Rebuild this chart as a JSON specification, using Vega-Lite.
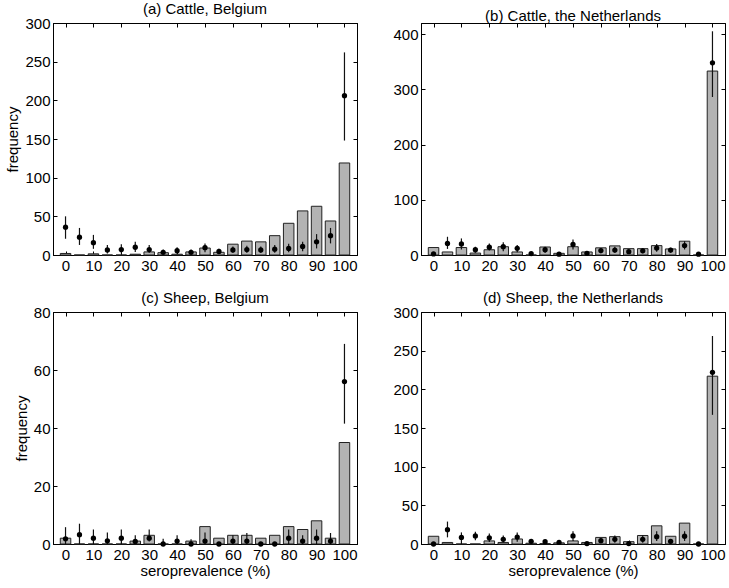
{
  "$schema": "https://vega.github.io/schema/vega-lite/v6.json",
  "padding": {"left": 5, "top": 1, "right": 4, "bottom": 2},
  "background": "white",
  "config": {
    "font": "Liberation Sans",
    "view": {"stroke": "black", "strokeWidth": 1},
    "axis": {"grid": false, "tickSize": -4, "minExtent": 0, "tickColor": "black", "domainColor": "black", "labelColor": "black", "labelFontSize": 15, "labelFont": "Liberation Sans", "titleFont": "Liberation Sans", "titleFontSize": 15, "titleFontWeight": "normal", "titleColor": "black"},
    "axisX": {"labelPadding": 7, "titlePadding": 1},
    "axisY": {"labelPadding": 7, "titlePadding": 4},
    "title": {"fontSize": 15, "fontWeight": "normal", "font": "Liberation Sans", "color": "black", "offset": -1, "frame": "group"}
  },
  "datasets": {
    "a": [
      {"x": 0, "bar": 2, "pt": 36, "lo": 21, "hi": 50},
      {"x": 5, "bar": 0, "pt": 23, "lo": 13, "hi": 35},
      {"x": 10, "bar": 1.5, "pt": 16, "lo": 8, "hi": 26},
      {"x": 15, "bar": 0, "pt": 6.5, "lo": 2, "hi": 13},
      {"x": 20, "bar": 0, "pt": 7, "lo": 2, "hi": 14},
      {"x": 25, "bar": 1, "pt": 10, "lo": 4, "hi": 17},
      {"x": 30, "bar": 4, "pt": 7, "lo": 3, "hi": 13},
      {"x": 35, "bar": 3, "pt": 3.5, "lo": 1, "hi": 7},
      {"x": 40, "bar": 1, "pt": 5.5, "lo": 2, "hi": 10},
      {"x": 45, "bar": 4, "pt": 3.5, "lo": 1, "hi": 7},
      {"x": 50, "bar": 9, "pt": 9.5, "lo": 3.5, "hi": 15},
      {"x": 55, "bar": 3.5, "pt": 4.5, "lo": 1.5, "hi": 8},
      {"x": 60, "bar": 14, "pt": 6.5, "lo": 2.5, "hi": 11},
      {"x": 65, "bar": 18, "pt": 7, "lo": 3, "hi": 12},
      {"x": 70, "bar": 17, "pt": 6.5, "lo": 2.5, "hi": 11},
      {"x": 75, "bar": 25, "pt": 7.5, "lo": 3, "hi": 13},
      {"x": 80, "bar": 41, "pt": 8.5, "lo": 3.5, "hi": 14.5},
      {"x": 85, "bar": 57, "pt": 11, "lo": 5, "hi": 17},
      {"x": 90, "bar": 63, "pt": 17, "lo": 8.5, "hi": 27},
      {"x": 95, "bar": 44, "pt": 25, "lo": 15, "hi": 35},
      {"x": 100, "bar": 119, "pt": 206, "lo": 148, "hi": 262}
    ],
    "b": [
      {"x": 0, "bar": 13.5, "pt": 2, "lo": 0, "hi": 4},
      {"x": 5, "bar": 5.5, "pt": 21, "lo": 11, "hi": 33},
      {"x": 10, "bar": 13.5, "pt": 20, "lo": 10, "hi": 30},
      {"x": 15, "bar": 3.5, "pt": 9.5, "lo": 4, "hi": 15},
      {"x": 20, "bar": 9.5, "pt": 14, "lo": 8, "hi": 21},
      {"x": 25, "bar": 15, "pt": 15, "lo": 7, "hi": 23},
      {"x": 30, "bar": 5.5, "pt": 12, "lo": 5, "hi": 18},
      {"x": 35, "bar": 0, "pt": 2.5, "lo": 0.5, "hi": 5},
      {"x": 40, "bar": 14.5, "pt": 9.5, "lo": 4, "hi": 15},
      {"x": 45, "bar": 3, "pt": 1.5, "lo": 0, "hi": 3},
      {"x": 50, "bar": 15, "pt": 19, "lo": 10, "hi": 28},
      {"x": 55, "bar": 5.5, "pt": 3, "lo": 1, "hi": 6},
      {"x": 60, "bar": 13, "pt": 8, "lo": 3, "hi": 12},
      {"x": 65, "bar": 16.5, "pt": 9, "lo": 4, "hi": 15},
      {"x": 70, "bar": 11.5, "pt": 6, "lo": 2, "hi": 9},
      {"x": 75, "bar": 11.5, "pt": 7.5, "lo": 3, "hi": 12},
      {"x": 80, "bar": 17, "pt": 12.5, "lo": 6, "hi": 20},
      {"x": 85, "bar": 11, "pt": 9, "lo": 4, "hi": 13},
      {"x": 90, "bar": 25, "pt": 17, "lo": 10, "hi": 25},
      {"x": 95, "bar": 0, "pt": 1.5, "lo": 0, "hi": 3},
      {"x": 100, "bar": 333, "pt": 348, "lo": 286, "hi": 405}
    ],
    "c": [
      {"x": 0, "bar": 2, "pt": 1.8, "lo": 0, "hi": 5.8},
      {"x": 5, "bar": 0, "pt": 3.2, "lo": 0, "hi": 7},
      {"x": 10, "bar": 0, "pt": 2, "lo": 0, "hi": 5},
      {"x": 15, "bar": 0, "pt": 1.1, "lo": 0, "hi": 4},
      {"x": 20, "bar": 0, "pt": 2, "lo": 0, "hi": 5},
      {"x": 25, "bar": 1, "pt": 0.9, "lo": 0, "hi": 3},
      {"x": 30, "bar": 3, "pt": 2, "lo": 0.9, "hi": 5},
      {"x": 35, "bar": 0, "pt": 0, "lo": 0, "hi": 1.8},
      {"x": 40, "bar": 0, "pt": 1, "lo": 0, "hi": 3},
      {"x": 45, "bar": 1, "pt": 0, "lo": 0, "hi": 1.6},
      {"x": 50, "bar": 6, "pt": 1, "lo": 0, "hi": 4},
      {"x": 55, "bar": 2, "pt": 0, "lo": 0, "hi": 0},
      {"x": 60, "bar": 3, "pt": 1, "lo": 0, "hi": 3},
      {"x": 65, "bar": 3, "pt": 1, "lo": 0, "hi": 3.8},
      {"x": 70, "bar": 2, "pt": 0, "lo": 0, "hi": 0},
      {"x": 75, "bar": 3, "pt": 0, "lo": 0, "hi": 0.5},
      {"x": 80, "bar": 6, "pt": 2, "lo": 0, "hi": 5},
      {"x": 85, "bar": 5, "pt": 1, "lo": 0, "hi": 3},
      {"x": 90, "bar": 8, "pt": 2, "lo": 0, "hi": 5},
      {"x": 95, "bar": 2, "pt": 1, "lo": 0, "hi": 3.8},
      {"x": 100, "bar": 35, "pt": 56, "lo": 41.5, "hi": 69}
    ],
    "d": [
      {"x": 0, "bar": 10, "pt": 0, "lo": 0, "hi": 0},
      {"x": 5, "bar": 2, "pt": 18.5, "lo": 8.6, "hi": 29},
      {"x": 10, "bar": 0, "pt": 8.5, "lo": 0, "hi": 15},
      {"x": 15, "bar": 0, "pt": 10.5, "lo": 5, "hi": 16},
      {"x": 20, "bar": 4, "pt": 8, "lo": 2.5, "hi": 13.5},
      {"x": 25, "bar": 2, "pt": 6, "lo": 2, "hi": 11},
      {"x": 30, "bar": 6.5, "pt": 9, "lo": 3, "hi": 15},
      {"x": 35, "bar": 1, "pt": 3.5, "lo": 0.5, "hi": 6},
      {"x": 40, "bar": 0.5, "pt": 3, "lo": 0.5, "hi": 5},
      {"x": 45, "bar": 1.5, "pt": 2, "lo": 0, "hi": 3},
      {"x": 50, "bar": 4, "pt": 10.5, "lo": 4, "hi": 16.5},
      {"x": 55, "bar": 2, "pt": 0.5, "lo": 0, "hi": 1},
      {"x": 60, "bar": 8.5, "pt": 4.3, "lo": 1, "hi": 7},
      {"x": 65, "bar": 9.5, "pt": 6, "lo": 1.5, "hi": 11},
      {"x": 70, "bar": 3, "pt": 0.5, "lo": 0, "hi": 1},
      {"x": 75, "bar": 11, "pt": 6, "lo": 1.5, "hi": 11},
      {"x": 80, "bar": 23.5, "pt": 9.5, "lo": 4, "hi": 16.5},
      {"x": 85, "bar": 10, "pt": 3.5, "lo": 0.5, "hi": 6},
      {"x": 90, "bar": 27, "pt": 10, "lo": 4, "hi": 16.5},
      {"x": 95, "bar": 0, "pt": 0, "lo": 0, "hi": 0},
      {"x": 100, "bar": 217, "pt": 222, "lo": 167, "hi": 269}
    ]
  },
  "columns": 2,
  "spacing": {"column": 34, "row": 16},
  "concat": [
    {
      "title": "(a) Cattle, Belgium",
      "width": 304, "height": 232,
      "data": {"name": "a"},
      "resolve": {"axis": {"x": "independent", "y": "independent"}},
      "layer": [
        {"mark": {"type": "bar", "width": 10.5, "fill": "#b3b3b3", "stroke": "#222222", "strokeWidth": 1},
         "encoding": {
           "x": {"field": "x", "type": "quantitative", "scale": {"domain": [-2.7, 102.7], "nice": false}, "axis": {"values": [0,10,20,30,40,50,60,70,80,90,100], "title": null}},
           "y": {"field": "bar", "type": "quantitative", "scale": {"domain": [0, 300], "nice": false}, "axis": {"values": [0,50,100,150,200,250,300], "title": "frequency"}}}},
        {"mark": {"type": "rule", "color": "#111111", "strokeWidth": 1.2},
         "encoding": {
           "x": {"field": "x", "type": "quantitative", "axis": {"orient": "top", "labels": false, "title": null, "values": [0,10,20,30,40,50,60,70,80,90,100]}},
           "y": {"field": "lo", "type": "quantitative", "axis": {"orient": "right", "labels": false, "title": null, "values": [0,50,100,150,200,250,300]}},
           "y2": {"field": "hi"}}},
        {"mark": {"type": "point", "shape": "circle", "filled": true, "color": "black", "opacity": 1, "size": 28},
         "encoding": {
           "x": {"field": "x", "type": "quantitative", "axis": null},
           "y": {"field": "pt", "type": "quantitative", "axis": null}}}
      ]
    },
    {
      "title": "(b) Cattle, the Netherlands",
      "width": 304, "height": 232,
      "data": {"name": "b"},
      "resolve": {"axis": {"x": "independent", "y": "independent"}},
      "layer": [
        {"mark": {"type": "bar", "width": 10.5, "fill": "#b3b3b3", "stroke": "#222222", "strokeWidth": 1},
         "encoding": {
           "x": {"field": "x", "type": "quantitative", "scale": {"domain": [-2.7, 102.7], "nice": false}, "axis": {"values": [0,10,20,30,40,50,60,70,80,90,100], "title": null}},
           "y": {"field": "bar", "type": "quantitative", "scale": {"domain": [0, 420], "nice": false}, "axis": {"values": [0,100,200,300,400], "title": null}}}},
        {"mark": {"type": "rule", "color": "#111111", "strokeWidth": 1.2},
         "encoding": {
           "x": {"field": "x", "type": "quantitative", "axis": {"orient": "top", "labels": false, "title": null, "values": [0,10,20,30,40,50,60,70,80,90,100]}},
           "y": {"field": "lo", "type": "quantitative", "axis": {"orient": "right", "labels": false, "title": null, "values": [0,100,200,300,400]}},
           "y2": {"field": "hi"}}},
        {"mark": {"type": "point", "shape": "circle", "filled": true, "color": "black", "opacity": 1, "size": 28},
         "encoding": {
           "x": {"field": "x", "type": "quantitative", "axis": null},
           "y": {"field": "pt", "type": "quantitative", "axis": null}}}
      ]
    },
    {
      "title": "(c) Sheep, Belgium",
      "width": 304, "height": 232,
      "data": {"name": "c"},
      "resolve": {"axis": {"x": "independent", "y": "independent"}},
      "layer": [
        {"mark": {"type": "bar", "width": 10.5, "fill": "#b3b3b3", "stroke": "#222222", "strokeWidth": 1},
         "encoding": {
           "x": {"field": "x", "type": "quantitative", "scale": {"domain": [-2.7, 102.7], "nice": false}, "axis": {"values": [0,10,20,30,40,50,60,70,80,90,100], "title": "seroprevalence (%)"}},
           "y": {"field": "bar", "type": "quantitative", "scale": {"domain": [0, 80], "nice": false}, "axis": {"values": [0,20,40,60,80], "title": "frequency"}}}},
        {"mark": {"type": "rule", "color": "#111111", "strokeWidth": 1.2},
         "encoding": {
           "x": {"field": "x", "type": "quantitative", "axis": {"orient": "top", "labels": false, "title": null, "values": [0,10,20,30,40,50,60,70,80,90,100]}},
           "y": {"field": "lo", "type": "quantitative", "axis": {"orient": "right", "labels": false, "title": null, "values": [0,20,40,60,80]}},
           "y2": {"field": "hi"}}},
        {"mark": {"type": "point", "shape": "circle", "filled": true, "color": "black", "opacity": 1, "size": 28},
         "encoding": {
           "x": {"field": "x", "type": "quantitative", "axis": null},
           "y": {"field": "pt", "type": "quantitative", "axis": null}}}
      ]
    },
    {
      "title": "(d) Sheep, the Netherlands",
      "width": 304, "height": 232,
      "data": {"name": "d"},
      "resolve": {"axis": {"x": "independent", "y": "independent"}},
      "layer": [
        {"mark": {"type": "bar", "width": 10.5, "fill": "#b3b3b3", "stroke": "#222222", "strokeWidth": 1},
         "encoding": {
           "x": {"field": "x", "type": "quantitative", "scale": {"domain": [-2.7, 102.7], "nice": false}, "axis": {"values": [0,10,20,30,40,50,60,70,80,90,100], "title": "seroprevalence (%)"}},
           "y": {"field": "bar", "type": "quantitative", "scale": {"domain": [0, 300], "nice": false}, "axis": {"values": [0,50,100,150,200,250,300], "title": null}}}},
        {"mark": {"type": "rule", "color": "#111111", "strokeWidth": 1.2},
         "encoding": {
           "x": {"field": "x", "type": "quantitative", "axis": {"orient": "top", "labels": false, "title": null, "values": [0,10,20,30,40,50,60,70,80,90,100]}},
           "y": {"field": "lo", "type": "quantitative", "axis": {"orient": "right", "labels": false, "title": null, "values": [0,50,100,150,200,250,300]}},
           "y2": {"field": "hi"}}},
        {"mark": {"type": "point", "shape": "circle", "filled": true, "color": "black", "opacity": 1, "size": 28},
         "encoding": {
           "x": {"field": "x", "type": "quantitative", "axis": null},
           "y": {"field": "pt", "type": "quantitative", "axis": null}}}
      ]
    }
  ]
}
